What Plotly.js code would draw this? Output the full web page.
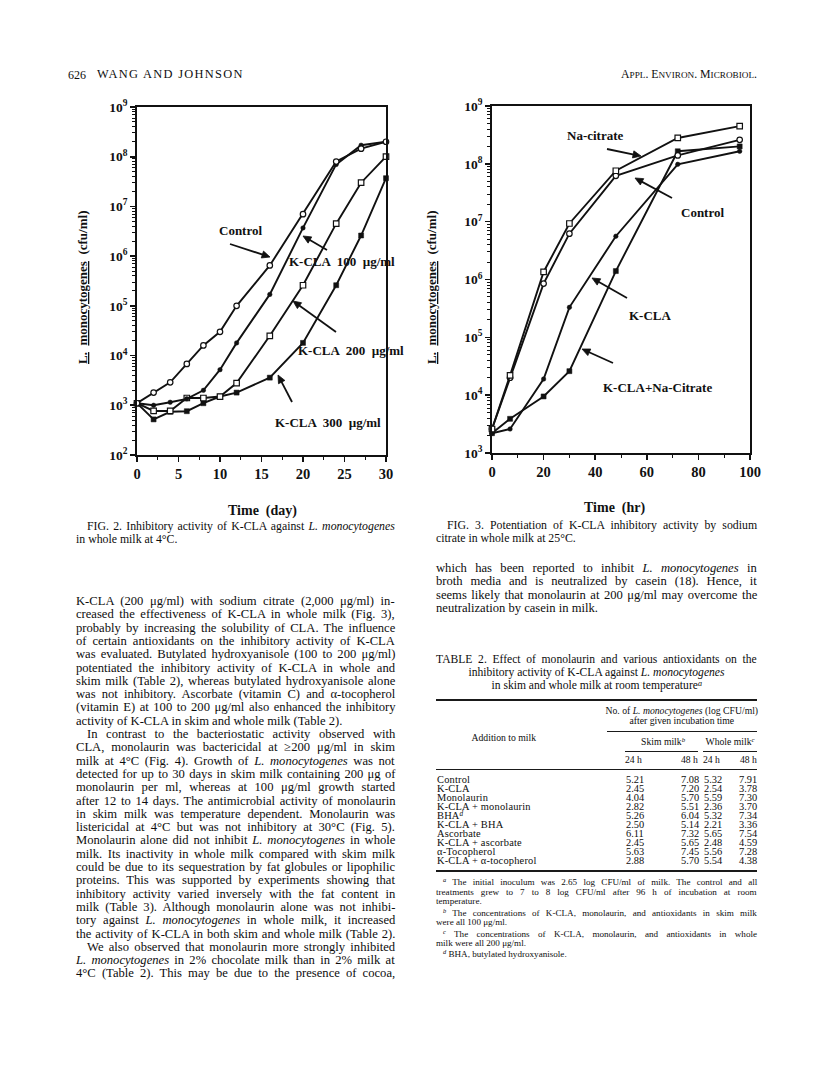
<!DOCTYPE html>
<html>
<head>
<meta charset="utf-8">
<script src="https://cdn.plot.ly/plotly-3.0.1.min.js"></script>
<style>
html,body{margin:0;padding:0;background:#fff;}
#page{position:relative;width:816px;height:1080px;overflow:hidden;background:#fff;}
#plot{position:absolute;left:0;top:0;width:816px;height:1080px;}
#txt{position:absolute;left:0;top:0;width:816px;height:1080px;pointer-events:none;}
.ln{position:absolute;white-space:nowrap;font-family:"Liberation Serif","Times New Roman",serif;color:#0d0d0d;}
.sp{position:relative;top:-0.42em;font-size:70%;line-height:0;font-style:italic;}
.rule{position:absolute;background:#1a1a1a;}
</style>
</head>
<body>
<div id="page"><div id="plot"></div><div id="txt"></div></div>
<script>
// ---------------- DATA ----------------
// Fig. 2 : whole milk at 4 C, cfu/ml vs time (day)
const fig2Days       = [0, 2, 4, 6, 8, 10, 12, 16, 20, 24, 27, 30];
const fig2Control    = [1.1e3, 1.8e3, 2.9e3, 6.8e3, 1.6e4, 3.0e4, 1.0e5, 6.5e5, 7.0e6, 8.0e7, 1.45e8, 2.0e8];
const fig2KCLA100    = [1.1e3, 1.0e3, 1.15e3, 1.35e3, 2.0e3, 5.2e3, 1.8e4, 1.7e5, 3.7e6, 7.0e7, 1.7e8, 2.0e8];
const fig2KCLA200    = [1.1e3, 7.7e2, 7.7e2, 1.4e3, 1.4e3, 1.5e3, 2.8e3, 2.5e4, 2.6e5, 4.5e6, 3.0e7, 1.0e8];
const fig2KCLA300    = [1.1e3, 5.2e2, 7.4e2, 7.6e2, 1.1e3, 1.5e3, 1.8e3, 3.6e3, 1.8e4, 2.6e5, 2.6e6, 3.7e7];
const fig2XTicks     = [0, 5, 10, 15, 20, 25, 30];

// Fig. 3 : whole milk at 25 C, cfu/ml vs time (hr)
const fig3Hours      = [0, 7, 20, 30, 48, 72, 96];
const fig3NaCitrate  = [2.6e3, 2.2e4, 1.35e6, 9.3e6, 7.6e7, 2.8e8, 4.5e8];
const fig3Control    = [2.6e3, 2.0e4, 8.5e5, 6.2e6, 6.2e7, 1.4e8, 2.6e8];
const fig3KCLA       = [2.2e3, 2.6e3, 1.9e4, 3.3e5, 5.6e6, 9.8e7, 1.65e8];
const fig3KCLANaCit  = [2.2e3, 3.9e3, 9.5e3, 2.6e4, 1.4e6, 1.65e8, 2.0e8];
const fig3XTicks     = [0, 20, 40, 60, 80, 100];

// Table 2
const tableAdditions = ["Control", "K-CLA", "Monolaurin", "K-CLA + monolaurin", "BHA<span class=\"sp\">d</span>",
                        "K-CLA + BHA", "Ascorbate", "K-CLA + ascorbate", "α-Tocopherol", "K-CLA + α-tocopherol"];
const skim24  = [5.21, 2.45, 4.04, 2.82, 5.26, 2.50, 6.11, 2.45, 5.63, 2.88];
const skim48  = [7.08, 7.20, 5.70, 5.51, 6.04, 5.14, 7.32, 5.65, 7.45, 5.70];
const whole24 = [5.32, 2.54, 5.59, 2.36, 5.32, 2.21, 5.65, 2.48, 5.56, 5.54];
const whole48 = [7.91, 3.78, 7.30, 3.70, 7.34, 3.36, 7.54, 4.59, 7.28, 4.38];

// ---------------- PAGE GEOMETRY ----------------
const W = 816, H = 1080;
const px = x => x / W, py = y => 1 - y / H;
const FONT = '"Liberation Serif","Times New Roman",serif';
const INK = '#111';

function decadeTicks(lo, hi){ const v=[]; for(let e=lo;e<=hi;e++) v.push(Math.pow(10,e)); return v; }
function decadeText(lo, hi){ const v=[]; for(let e=lo;e<=hi;e++) v.push('10<sup>'+e+'</sup>'); return v; }
function minorLog(lo, hi){ const v=[]; for(let e=lo;e<hi;e++) for(let k=2;k<10;k++) v.push(k*Math.pow(10,e)); return v; }

function yAxis(dom, lo, hi, anchor){
  return {type:'log', domain:dom, range:[lo,hi], anchor:anchor,
    tickmode:'array', tickvals:decadeTicks(lo,hi), ticktext:decadeText(lo,hi),
    ticks:'outside', ticklen:5, tickwidth:1.6, tickcolor:INK,
    minor:{tickmode:'array', tickvals:minorLog(lo,hi), ticks:'outside', ticklen:3, tickwidth:1, tickcolor:INK, showgrid:false},
    showline:true, linewidth:1.8, linecolor:INK, mirror:true, showgrid:false, zeroline:false,
    tickfont:{family:FONT, size:13.5, color:INK, weight:'bold'}};
}
function xAxis(dom, range, tv, minorStep, anchor){
  return {domain:dom, range:range, anchor:anchor, tickmode:'array', tickvals:tv,
    ticktext: tv.map(String),
    ticks:'outside', ticklen:5, tickwidth:1.6, tickcolor:INK,
    minor:{dtick:minorStep, tick0:0, ticks:'outside', ticklen:3, tickwidth:1, tickcolor:INK, showgrid:false},
    showline:true, linewidth:1.8, linecolor:INK, mirror:true, showgrid:false, zeroline:false,
    tickfont:{family:FONT, size:14.5, color:INK, weight:'bold'}};
}

const openM   = s => ({symbol:s, size:5.5, color:'#fff', line:{color:INK, width:1.2}});
const filledM = (s,sz) => ({symbol:s, size:sz, color:INK, line:{color:INK, width:0.5}});
const lineS = {color:INK, width:1.9};

function series(x, y, marker, xa, ya, name){
  return {type:'scatter', mode:'lines+markers', x:x, y:y, name:name, xaxis:xa, yaxis:ya,
          line:lineS, marker:marker, cliponaxis:false};
}

const traces = [
  series(fig2Days, fig2KCLA300, filledM('square',5), 'x', 'y', 'K-CLA 300 µg/ml'),
  series(fig2Days, fig2KCLA200, openM('square'), 'x', 'y', 'K-CLA 200 µg/ml'),
  series(fig2Days, fig2KCLA100, filledM('circle',4.5), 'x', 'y', 'K-CLA 100 µg/ml'),
  series(fig2Days, fig2Control, openM('circle'), 'x', 'y', 'Control'),
  series(fig3Hours, fig3KCLANaCit, filledM('square',5), 'x2', 'y2', 'K-CLA+Na-Citrate'),
  series(fig3Hours, fig3KCLA, filledM('circle',4.5), 'x2', 'y2', 'K-CLA'),
  series(fig3Hours, fig3Control, openM('circle'), 'x2', 'y2', 'Control'),
  series(fig3Hours, fig3NaCitrate, openM('square'), 'x2', 'y2', 'Na-citrate')
];

// labels and pointer arrows, placed in page pixels
const annotations = [], shapes = [];
function label(cx, cy, text, size){
  annotations.push({xref:'paper', yref:'paper', x:px(cx), y:py(cy), text:text, showarrow:false,
    xanchor:'center', yanchor:'middle', font:{family:FONT, size:size||13, color:INK, weight:'bold'}});
}
function arrow(tx, ty, hx, hy){
  const dx = hx - tx, dy = hy - ty, L = Math.hypot(dx, dy);
  const ux = dx / L, uy = dy / L, hl = 8, hw = 3.6;
  const bx = hx - ux * hl, by = hy - uy * hl;
  shapes.push({type:'line', xref:'paper', yref:'paper', x0:px(tx), y0:py(ty), x1:px(bx + ux*2), y1:py(by + uy*2),
    line:{color:INK, width:1.8}});
  const p1 = [bx - uy*hw, by + ux*hw], p2 = [bx + uy*hw, by - ux*hw];
  shapes.push({type:'path', xref:'paper', yref:'paper',
    path:'M'+px(hx)+','+py(hy)+' L'+px(p1[0])+','+py(p1[1])+' L'+px(p2[0])+','+py(p2[1])+' Z',
    fillcolor:INK, line:{color:INK, width:0.8}});
}
function ytitle(cx, cy){
  annotations.push({xref:'paper', yref:'paper', x:px(cx), y:py(cy), textangle:-90, showarrow:false,
    text:'<u>L.</u>  <u>monocytogenes</u>  (cfu/ml)', xanchor:'center', yanchor:'middle',
    font:{family:FONT, size:13, color:INK, weight:'bold'}});
}

// Fig 2 labels
label(240, 230, 'Control');                arrow(230, 244, 270, 257);
label(342, 261, 'K-CLA  100  µg/ml');       arrow(327, 250, 303, 236);
label(351, 350, 'K-CLA  200  µg/ml');       arrow(336, 332, 293, 301);
label(328, 422, 'K-CLA  300  µg/ml');       arrow(292, 402, 278, 375);
label(262, 511, 'Time  (day)', 14);
ytitle(83, 288);
// Fig 3 labels
label(595, 135, 'Na-citrate');              arrow(607, 149, 641, 156);
label(702, 213, 'Control');                 arrow(672, 198, 635, 178);
label(650, 315, 'K-CLA');                   arrow(627, 298, 592, 278);
label(657, 387, 'K-CLA+Na-Citrate');        arrow(613, 363, 582, 349);
label(615, 508, 'Time  (hr)', 14);
ytitle(432, 288);

const layout = {
  width:W, height:H, margin:{l:0, r:0, t:0, b:0}, showlegend:false,
  paper_bgcolor:'#fff', plot_bgcolor:'rgba(0,0,0,0)',
  xaxis:  xAxis([px(137), px(386)], [0,30], fig2XTicks, 2.5, 'y'),
  yaxis:  yAxis([py(455), py(107)], 2, 9, 'x'),
  xaxis2: xAxis([px(492), px(750)], [0,100], fig3XTicks, 10, 'y2'),
  yaxis2: yAxis([py(453), py(106)], 3, 9, 'x2'),
  annotations: annotations, shapes: shapes
};

Plotly.newPlot('plot', traces, layout, {staticPlot:true, displayModeBar:false});

// ---------------- PAGE TEXT ----------------
const txt = document.getElementById('txt');
function addLine(x, y, html, opt){
  opt = opt || {};
  const size = opt.size || 12.6;
  const lh = opt.lh || size;
  const d = document.createElement('div');
  d.className = 'ln';
  d.style.fontSize = size + 'px';
  d.style.lineHeight = lh + 'px';
  if (opt.ls) d.style.letterSpacing = opt.ls + 'px';
  d.innerHTML = html;
  txt.appendChild(d);
  const w = d.offsetWidth;
  let left = x;
  if (opt.align === 'center') left = x - w/2;
  else if (opt.align === 'right') left = x - w;
  if (opt.width) {
    const n = (d.textContent.match(/ /g) || []).length;
    if (n > 0) d.style.wordSpacing = ((opt.width - w) / n) + 'px';
  }
  d.style.left = left + 'px';
  d.style.top = (y - lh/2 - 0.5) + 'px';
  return d;
}
function addRule(x0, x1, y, t){
  const r = document.createElement('div'); r.className = 'rule';
  r.style.left = x0 + 'px'; r.style.width = (x1 - x0) + 'px';
  r.style.top = (y - (t||1)/2) + 'px'; r.style.height = (t||1) + 'px';
  txt.appendChild(r);
}
const SUP = t => '<span class="sp">' + t + '</span>';

// running head
addLine(68, 75, '626', {size:12});
addLine(97, 75, 'WANG AND JOHNSON', {size:12.4, ls:1.3});
addLine(757, 75, 'A<span style="font-size:78%">PPL</span>. E<span style="font-size:78%">NVIRON</span>. M<span style="font-size:78%">ICROBIOL</span>.', {size:11.8, align:'right'});

// captions
const LC = 76, LW = 319, RC = 436, RW = 321;
addLine(87, 527, 'FIG. 2. Inhibitory activity of K-CLA against <i>L. monocytogenes</i>', {size:11.8, width:LC+LW-87});
addLine(LC, 540, 'in whole milk at 4°C.', {size:11.8});
addLine(447, 526, 'FIG. 3. Potentiation of K-CLA inhibitory activity by sodium', {size:11.8, width:RC+RW-447});
addLine(RC, 539, 'citrate in whole milk at 25°C.', {size:11.8});

// left column body text  [text, justified?, indent]
const leftLines = [
  ['K-CLA (200 μg/ml) with sodium citrate (2,000 μg/ml) in-', 1, 0],
  ['creased the effectiveness of K-CLA in whole milk (Fig. 3),', 1, 0],
  ['probably by increasing the solubility of CLA. The influence', 1, 0],
  ['of certain antioxidants on the inhibitory activity of K-CLA', 1, 0],
  ['was evaluated. Butylated hydroxyanisole (100 to 200 μg/ml)', 1, 0],
  ['potentiated the inhibitory activity of K-CLA in whole and', 1, 0],
  ['skim milk (Table 2), whereas butylated hydroxyanisole alone', 1, 0],
  ['was not inhibitory. Ascorbate (vitamin C) and α-tocopherol', 1, 0],
  ['(vitamin E) at 100 to 200 μg/ml also enhanced the inhibitory', 1, 0],
  ['activity of K-CLA in skim and whole milk (Table 2).', 0, 0],
  ['In contrast to the bacteriostatic activity observed with', 1, 11],
  ['CLA, monolaurin was bactericidal at ≥200 μg/ml in skim', 1, 0],
  ['milk at 4°C (Fig. 4). Growth of <i>L. monocytogenes</i> was not', 1, 0],
  ['detected for up to 30 days in skim milk containing 200 μg of', 1, 0],
  ['monolaurin per ml, whereas at 100 μg/ml growth started', 1, 0],
  ['after 12 to 14 days. The antimicrobial activity of monolaurin', 1, 0],
  ['in skim milk was temperature dependent. Monolaurin was', 1, 0],
  ['listericidal at 4°C but was not inhibitory at 30°C (Fig. 5).', 1, 0],
  ['Monolaurin alone did not inhibit <i>L. monocytogenes</i> in whole', 1, 0],
  ['milk. Its inactivity in whole milk compared with skim milk', 1, 0],
  ['could be due to its sequestration by fat globules or lipophilic', 1, 0],
  ['proteins. This was supported by experiments showing that', 1, 0],
  ['inhibitory activity varied inversely with the fat content in', 1, 0],
  ['milk (Table 3). Although monolaurin alone was not inhibi-', 1, 0],
  ['tory against <i>L. monocytogenes</i> in whole milk, it increased', 1, 0],
  ['the activity of K-CLA in both skim and whole milk (Table 2).', 1, 0],
  ['We also observed that monolaurin more strongly inhibited', 1, 11],
  ['<i>L. monocytogenes</i> in 2% chocolate milk than in 2% milk at', 1, 0],
  ['4°C (Table 2). This may be due to the presence of cocoa,', 1, 0]
];
leftLines.forEach((l, i) => {
  const y = 602 + i * 13.3;
  const o = {lh:13};
  if (l[1]) o.width = LW - l[2];
  addLine(LC + l[2], y, l[0], o);
});

// right column body text
const rightLines = [
  ['which has been reported to inhibit <i>L. monocytogenes</i> in', 1],
  ['broth media and is neutralized by casein (18). Hence, it', 1],
  ['seems likely that monolaurin at 200 μg/ml may overcome the', 1],
  ['neutralization by casein in milk.', 0]
];
rightLines.forEach((l, i) => addLine(RC, 569 + i * 13.3, l[0], l[1] ? {width: RW, lh:13} : {lh:13}));

// table title
const TCX = RC + RW/2;
addLine(RC, 661, 'TABLE 2. Effect of monolaurin and various antioxidants on the', {size:11.6, width:RW, lh:12.5});
addLine(TCX, 674, 'inhibitory activity of K-CLA against <i>L. monocytogenes</i>', {size:11.6, align:'center', lh:12.5});
addLine(TCX, 687, 'in skim and whole milk at room temperature' + SUP('a'), {size:11.6, align:'center', lh:12.5});

// table header
const TS = 9.7;
addRule(RC, RC+RW, 700, 1.5);
addLine(682, 711, 'No. of <i>L. monocytogenes</i> (log CFU/ml)', {size:TS, align:'center', lh:9.5});
addLine(682, 721, 'after given incubation time', {size:TS, align:'center', lh:9.5});
addRule(607, RC+RW, 731, 1);
addLine(504, 738, 'Addition to milk', {size:TS, align:'center', lh:9.5});
addLine(663, 742, 'Skim milk' + SUP('b'), {size:TS, align:'center', lh:9.5});
addLine(730, 742, 'Whole milk' + SUP('c'), {size:TS, align:'center', lh:9.5});
addRule(625, 698, 751, 1);
addRule(703, RC+RW, 751, 1);
addLine(625, 760, '24 h', {size:TS, lh:9.5});
addLine(698, 760, '48 h', {size:TS, align:'right', lh:9.5});
addLine(703, 760, '24 h', {size:TS, lh:9.5});
addLine(RC+RW, 760, '48 h', {size:TS, align:'right', lh:9.5});
addRule(RC, RC+RW, 769, 1);

// table body built from the arrays
const RS = 10.4;
tableAdditions.forEach((name, i) => {
  const y = 781 + i * 9.0;
  const o = {size:RS, lh:8.8};
  addLine(RC + 1, y, name, Object.assign({ls:0.2}, o));
  addLine(644, y, skim24[i].toFixed(2), Object.assign({align:'right'}, o));
  addLine(699, y, skim48[i].toFixed(2), Object.assign({align:'right'}, o));
  addLine(722, y, whole24[i].toFixed(2), Object.assign({align:'right'}, o));
  addLine(RC+RW, y, whole48[i].toFixed(2), Object.assign({align:'right'}, o));
});
addRule(RC, RC+RW, 871, 1.5);

// footnotes
const FS = 9.1;
const notes = [
  [SUP('a') + ' The initial inoculum was 2.65 log CFU/ml of milk. The control and all', 1, 7, 883],
  ['treatments grew to 7 to 8 log CFU/ml after 96 h of incubation at room', 1, 0, 893],
  ['temperature.', 0, 0, 902.5],
  [SUP('b') + ' The concentrations of K-CLA, monolaurin, and antioxidants in skim milk', 1, 7, 914],
  ['were all 100 μg/ml.', 0, 0, 923.5],
  [SUP('c') + ' The concentrations of K-CLA, monolaurin, and antioxidants in whole', 1, 7, 935],
  ['milk were all 200 μg/ml.', 0, 0, 944.5],
  [SUP('d') + ' BHA, butylated hydroxyanisole.', 0, 7, 955]
];
notes.forEach(n => {
  const o = {size:FS, lh:9.2};
  if (n[1]) o.width = RW - n[2];
  addLine(RC + n[2], n[3], n[0], o);
});
</script>
</body>
</html>
